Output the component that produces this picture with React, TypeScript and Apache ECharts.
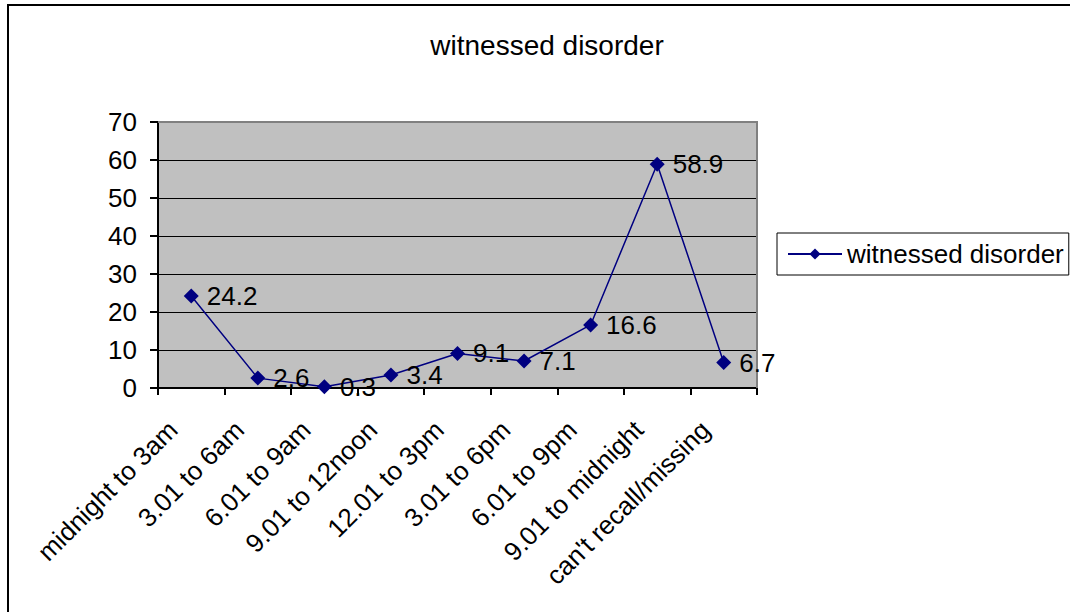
import React, { useEffect, useRef } from "react";
import * as echarts from "echarts";

const categories = [
  "midnight to 3am",
  "3.01 to 6am",
  "6.01 to 9am",
  "9.01 to 12noon",
  "12.01 to 3pm",
  "3.01 to 6pm",
  "6.01 to 9pm",
  "9.01 to midnight",
  "can't recall/missing",
];
const values = [24.2, 2.6, 0.3, 3.4, 9.1, 7.1, 16.6, 58.9, 6.7];
const seriesName = "witnessed disorder";
const chartTitle = "witnessed disorder";

const FONT = "'Liberation Sans', Arial, sans-serif";

// plot frame
const PLOT = { left: 158, top: 122, width: 599, height: 266 };

export default function App() {
  const ref = useRef<HTMLDivElement>(null);

  useEffect(() => {
    if (!ref.current) return;
    const chart = echarts.init(ref.current, undefined, { renderer: "svg" });
    chart.setOption({
      animation: false,
      backgroundColor: "#ffffff",
      textStyle: { fontFamily: FONT },
      title: {
        text: chartTitle,
        left: 542,
        top: 26,
        textAlign: "center",
        textStyle: { fontFamily: FONT, fontSize: 28, fontWeight: "normal", color: "#000" },
      },
      graphic: [
        {
          type: "rect",
          shape: { x: 8, y: 5, width: 1100, height: 640 },
          style: { fill: "none", stroke: "#000", lineWidth: 2 },
          silent: true,
        },
        {
          type: "polyline",
          shape: {
            points: [
              [PLOT.left, PLOT.top],
              [PLOT.left + PLOT.width, PLOT.top],
              [PLOT.left + PLOT.width, PLOT.top + PLOT.height],
            ],
          },
          style: { fill: "none", stroke: "#808080", lineWidth: 2 },
          silent: true,
          z: 1,
        },
      ],
      legend: {
        data: [seriesName],
        left: 777,
        top: 233,
        orient: "vertical",
        padding: [8, 5, 8, 10],
        itemWidth: 54,
        itemHeight: 14,
        itemGap: 0,
        borderColor: "#000",
        borderWidth: 1,
        backgroundColor: "#fff",
        textStyle: { fontFamily: FONT, fontSize: 26, color: "#000" },
      },
      grid: { ...PLOT, containLabel: false },
      xAxis: {
        type: "category",
        data: categories,
        boundaryGap: true,
        axisLine: { show: true, lineStyle: { color: "#000", width: 2 } },
        axisTick: { show: true, length: 7, lineStyle: { color: "#000", width: 2 } },
        axisLabel: {
          rotate: 45,
          margin: 19,
          padding: [0, 26, 0, 0],
          fontFamily: FONT,
          fontSize: 26,
          color: "#000",
          interval: 0,
        },
      },
      yAxis: {
        type: "value",
        min: 0,
        max: 70,
        interval: 10,
        axisLine: { show: true, lineStyle: { color: "#000", width: 2 } },
        axisTick: { show: true, length: 8, lineStyle: { color: "#000", width: 2 } },
        axisLabel: { margin: 21, fontFamily: FONT, fontSize: 26, color: "#000" },
        splitLine: { show: true, lineStyle: { color: "#000", width: 1 } },
        splitArea: { show: true, areaStyle: { color: ["#c0c0c0", "#c0c0c0"] } },
      },
      series: [
        {
          name: seriesName,
          type: "line",
          data: values,
          symbol: "diamond",
          symbolSize: 15,
          z: 3,
          lineStyle: { color: "#000080", width: 1.5 },
          itemStyle: { color: "#000080" },
          label: {
            show: true,
            position: "right",
            distance: 8,
            fontFamily: FONT,
            fontSize: 26,
            color: "#000",
          },
        },
      ],
    });
    return () => chart.dispose();
  }, []);

  return (
    <div
      ref={ref}
      style={{ position: "fixed", left: 0, top: 0, width: 1070, height: 612 }}
    />
  );
}
